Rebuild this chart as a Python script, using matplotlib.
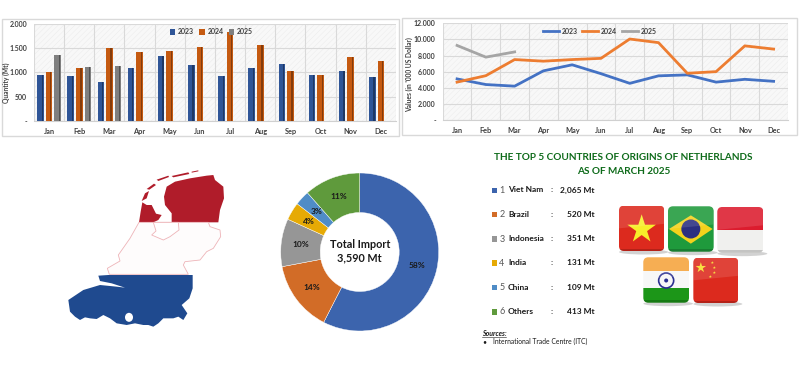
import numpy as np
import matplotlib
matplotlib.use("Agg")
import matplotlib.pyplot as plt
from matplotlib.patches import Polygon, Rectangle, FancyBboxPatch, Circle, Ellipse

plt.rcParams['font.family'] = ['Lato', 'DejaVu Sans']
plt.rcParams['hatch.linewidth'] = 0.3

months = ['Jan', 'Feb', 'Mar', 'Apr', 'May', 'Jun', 'Jul', 'Aug', 'Sep', 'Oct', 'Nov', 'Dec']
qty_2023 = [950, 920, 800, 1090, 1340, 1160, 920, 1090, 1175, 950, 1030, 905]
qty_2024 = [1010, 1090, 1500, 1420, 1440, 1530, 1830, 1565, 1020, 940, 1320, 1240]
qty_2025 = [1350, 1105, 1140]
val_2023 = [5100, 4400, 4200, 6100, 6850, 5750, 4550, 5480, 5600, 4700, 5050, 4800]
val_2024 = [4700, 5500, 7500, 7300, 7500, 7650, 10050, 9600, 5800, 6000, 9200, 8800]
val_2025 = [9250, 7800, 8450]
qty_ticks = [0, 500, 1000, 1500, 2000]
qty_labels = ['-', '500', '1.000', '1.500', '2.000']
val_ticks = [0, 2000, 4000, 6000, 8000, 10000, 12000]
val_labels = ['-', '2.000', '4.000', '6.000', '8.000', '10.000', '12.000']

countries = ['Viet Nam', 'Brazil', 'Indonesia', 'India', 'China', 'Others']
imports = [2065, 520, 351, 131, 109, 413]
import_labels = ['2,065 Mt', '520 Mt', '351 Mt', '131 Mt', '109 Mt', '413 Mt']
pct_labels = ['58%', '14%', '10%', '4%', '3%', '11%']

BLUE, ORANGE, GRAY = '#2f5597', '#c55a11', '#7f7f7f'
LBLUE, LORANGE, LGRAY = '#4472c4', '#ed7d31', '#a5a5a5'
donut_cols = ['#3c64ad', '#d26c27', '#969696', '#e6aa05', '#4f8cc6', '#5f9a3c']
TXT = '#404040'
W, H = 799, 372

fig = plt.figure(figsize=(W / 100, H / 100), dpi=100)


def px_axes(l, t, r, b):
    return fig.add_axes([l / W, 1 - b / H, (r - l) / W, (b - t) / H])


# background layer in pixel coordinates
bg = fig.add_axes([0, 0, 1, 1], zorder=0)
bg.set_xlim(0, W)
bg.set_ylim(H, 0)
bg.axis('off')
bg.add_patch(Rectangle((2, 19), 397, 117, fc='white', ec='#d9d9d9', lw=1))
bg.add_patch(Rectangle((402, 18), 395, 117, fc='white', ec='#d9d9d9', lw=1))


def style_axes(ax, ticks, labels, n=12):
    ax.set_facecolor('#f8f8f8')
    ax.patch.set_hatch('//////')
    ax.patch.set_edgecolor('#e9e9e9')
    ax.patch.set_linewidth(0)
    ax.set_xlim(-0.5, n - 0.5)
    ax.set_ylim(ticks[0], ticks[-1])
    ax.set_xticks(range(n))
    ax.set_xticklabels(months, fontsize=5.3, fontweight='bold', color=TXT)
    ax.set_yticks(ticks)
    ax.set_yticklabels(labels, fontsize=5, fontweight='bold', color=TXT)
    ax.set_xticks(np.arange(-0.5, n), minor=True)
    ax.tick_params(which='both', length=0)
    ax.tick_params(axis='x', pad=5)
    ax.tick_params(axis='y', pad=5)
    ax.grid(True, axis='y', color='#d9d9d9', lw=0.8)
    ax.grid(True, axis='x', which='minor', color='#d9d9d9', lw=0.8)
    ax.grid(False, axis='x', which='major')
    ax.set_axisbelow(True)
    for s in ax.spines.values():
        s.set_visible(False)
    ax.spines['bottom'].set_visible(True)
    ax.spines['bottom'].set_color('#d0d0d0')


# quantity bars
ax1 = px_axes(34, 24, 396, 120.7)
style_axes(ax1, qty_ticks, qty_labels)
bw = 0.22
step = 0.285
for i, (vals, dark, light, lab) in enumerate([
        (qty_2023, '#1f3864', BLUE, '2023'),
        (qty_2024, '#843c0c', ORANGE, '2024'),
        (qty_2025, '#525252', GRAY, '2025')]):
    x = np.arange(len(vals)) + (i - 1) * step
    ax1.bar(x, vals, bw, color=light, label=lab, zorder=3)
    ax1.bar(x + bw * 0.26, vals, bw * 0.2, color=dark, zorder=4)
leg = ax1.legend(loc='upper center', bbox_to_anchor=(0.49, 1.02), ncol=3, frameon=False,
                 handlelength=0.8, handleheight=0.8, handletextpad=0.4,
                 columnspacing=0.7, prop={'weight': 'bold', 'size': 5})
for t in leg.get_texts():
    t.set_color(TXT)

# value lines
ax2 = px_axes(442.7, 23.3, 788, 120)
style_axes(ax2, val_ticks, val_labels)
ax2.plot(range(12), val_2023, color=LBLUE, lw=2, label='2023', zorder=3)
ax2.plot(range(12), val_2024, color=LORANGE, lw=2, label='2024', zorder=3)
ax2.plot(range(3), val_2025, color=LGRAY, lw=2, label='2025', zorder=3)
leg = ax2.legend(loc='upper center', bbox_to_anchor=(0.455, 1.02), ncol=3, frameon=False,
                 handlelength=2.3, handletextpad=0.4, columnspacing=0.7,
                 prop={'weight': 'bold', 'size': 5})
for t in leg.get_texts():
    t.set_color(TXT)

# donut, centre (359.7, 252), outer radius 79
r = 79
ax3 = px_axes(359.7 - r, 252 - r, 359.7 + r, 252 + r)
wedges, _ = ax3.pie(imports, colors=donut_cols, startangle=90, counterclock=False, radius=1,
                    wedgeprops=dict(width=0.5, edgecolor='white', linewidth=0.3))
ax3.set_xlim(-1, 1)
ax3.set_ylim(-1, 1)
for w, lab in zip(wedges, pct_labels):
    a = np.deg2rad((w.theta1 + w.theta2) / 2)
    ax3.text(0.75 * np.cos(a), 0.75 * np.sin(a), lab, ha='center', va='center',
             fontsize=6, fontweight='bold', color='#1a1a1a')
ax3.text(0, 0.01, 'Total Import\n3,590 Mt', ha='center', va='center', fontsize=7.8,
         fontweight='bold', color='#1a1a1a', linespacing=1.3)

# overlay in pixel coordinates: axis titles, map, flags, text
ov = fig.add_axes([0, 0, 1, 1], zorder=5)
ov.set_xlim(0, W)
ov.set_ylim(H, 0)
ov.axis('off')
ov.patch.set_alpha(0)

ov.text(6, 83, 'Quantity (Mt)', rotation=90, ha='center', va='center', fontsize=4.8,
        fontweight='bold', color=TXT)
ov.text(409, 75, "Values (in '000 US Dollar)", rotation=90, ha='center', va='center', fontsize=4.8,
        fontweight='bold', color=TXT)


def mp(pts):
    # map outline was traced on a 3x crop starting at (50, 155)
    return [(x / 3 + 50, y / 3 + 155) for x, y in pts]


RED_MAP, BLUE_MAP = '#b01c2a', '#1f4a8f'
for pts in [
    [(342, 125), (350, 95), (375, 80), (420, 70), (470, 62), (490, 60), (495, 75), (520, 95),
     (522, 130), (510, 165), (505, 202), (365, 202), (365, 175), (345, 150)],
    [(267, 202), (272, 170), (277, 142), (290, 150), (305, 150), (318, 176), (335, 180),
     (325, 195), (310, 202)],
    [(275, 138), (285, 115), (297, 108), (290, 130)],
    [(290, 102), (312, 86), (318, 90), (298, 104)],
    [(320, 74), (355, 62), (357, 66), (325, 78)],
    [(365, 63), (415, 52), (418, 57), (370, 67)],
    [(425, 50), (445, 46), (445, 49), (425, 53)],
]:
    ov.add_patch(Polygon(mp(pts), fc=RED_MAP, ec='none'))
ov.add_patch(Polygon(mp([(267, 202), (240, 250), (205, 300), (210, 318), (172, 340), (178, 358),
                         (415, 358), (400, 330), (405, 320), (450, 315), (470, 290), (490, 280),
                         (512, 245), (510, 225), (480, 215), (475, 202)]),
                     fc='#fefcfc', ec='#eeb4b8', lw=0.6))
ov.add_patch(Polygon(mp([(310, 202), (318, 228), (305, 240), (340, 255), (360, 245), (387, 225),
                         (385, 202)]), fc='white', ec='#eeb4b8', lw=0.6))
ov.add_patch(Polygon(mp([(145, 362), (175, 360), (428, 360), (428, 400), (418, 430), (395, 450),
                         (412, 475), (400, 495), (385, 485), (370, 490), (340, 490), (325, 505),
                         (310, 515), (295, 510), (280, 510), (255, 505), (230, 510), (200, 505),
                         (180, 490), (160, 480), (140, 492), (120, 490), (105, 487), (90, 495),
                         (75, 485), (60, 470), (55, 435), (100, 405), (150, 390), (200, 395),
                         (225, 398), (185, 385), (150, 378)]), fc=BLUE_MAP, ec='none'))
ov.add_patch(Ellipse((237 / 3 + 50, 487 / 3 + 155), 8, 9, fc='white', ec='none'))


def fp(x, y):
    # flag positions were read on a 3x crop starting at (470, 150)
    return x / 3 + 470, y / 3 + 150


def star(cx, cy, R, fc):
    ang = np.deg2rad(-90 + 36 * np.arange(10))
    rad = np.where(np.arange(10) % 2 == 0, R, R * 0.38)
    ov.add_patch(Polygon(np.c_[cx + rad * np.cos(ang), cy + rad * np.sin(ang)], fc=fc, ec='none',
                         zorder=3))


def flag(x0, y0, x1, y1):
    l, t = fp(x0, y0)
    rr, b = fp(x1, y1)
    ov.add_patch(Ellipse(((l + rr) / 2 + 2, b + 1), rr - l + 4, 5, fc='#b5b5b5', ec='none', alpha=0.6, zorder=1))
    box = FancyBboxPatch((l + 4, t + 4), rr - l - 8, b - t - 8, boxstyle='round,pad=4,rounding_size=5',
                         fc='none', ec='none', zorder=2)
    ov.add_patch(box)
    return l, t, rr - l, b - t, box


def band(l, t, w, h, frac0, frac1, col, box):
    p = Rectangle((l, t + frac0 * h), w, (frac1 - frac0) * h, fc=col, ec='none', zorder=2)
    ov.add_patch(p)
    p.set_clip_path(box)


def gloss(l, t, w, h, box):
    # lighter top half of the glossy button, darker rim at the bottom
    p = Polygon([(l, t), (l + w, t), (l + w, t + h * 0.4), (l, t + h * 0.5)],
                fc='white', ec='none', alpha=0.12, zorder=4)
    ov.add_patch(p)
    p.set_clip_path(box)
    p = Rectangle((l, t + h * 0.95), w, h * 0.05, fc='black', ec='none', alpha=0.18, zorder=4)
    ov.add_patch(p)
    p.set_clip_path(box)


l, t, w, h, box = flag(447, 167, 583, 303)
band(l, t, w, h, 0, 1, '#dc2a1e', box)
star(l + w / 2, t + h / 2 + 1, 15, '#f7ee2a')
gloss(l, t, w, h, box)

l, t, w, h, box = flag(594, 169, 731, 305)
band(l, t, w, h, 0, 1, '#1f9a3c', box)
ov.add_patch(Polygon([(l + 1, t + h / 2), (l + w / 2, t + 9), (l + w - 1, t + h / 2), (l + w / 2, t + h - 8)],
                     fc='#f3d21c', ec='none', zorder=3))
ov.add_patch(Circle((l + w / 2, t + h / 2), 9.5, fc='#2b2f80', ec='none', zorder=3))
gloss(l, t, w, h, box)

l, t, w, h, box = flag(742, 171, 880, 308)
band(l, t, w, h, 0, 0.5, '#dc1c2e', box)
band(l, t, w, h, 0.5, 1, '#f0f0ee', box)
gloss(l, t, w, h, box)

l, t, w, h, box = flag(520, 322, 657, 458)
band(l, t, w, h, 0, 0.31, '#f5a33c', box)
band(l, t, w, h, 0.31, 0.68, '#f7f7f7', box)
band(l, t, w, h, 0.68, 1, '#1c9618', box)
ov.add_patch(Circle((l + w / 2, t + h / 2 + 0.5), 7.5, fc='none', ec='#2b2f90', lw=1.2, zorder=3))
ov.add_patch(Circle((l + w / 2, t + h / 2 + 0.5), 2, fc='#2b2f90', ec='none', zorder=3))
gloss(l, t, w, h, box)

l, t, w, h, box = flag(670, 323, 805, 459)
band(l, t, w, h, 0, 1, '#dc2a1e', box)
star(l + 7.5, t + 10, 5.5, '#f7dc2a')
for dx, dy in [(19, 5), (21, 10), (21, 15), (17, 19)]:
    star(l + dx, t + dy, 1.6, '#f7dc2a')
gloss(l, t, w, h, box)

# right-hand text block
ov.text(623.5, 157, 'THE TOP 5 COUNTRIES OF ORIGINS OF NETHERLANDS', ha='center', va='center',
        fontsize=7.2, fontweight='bold', color='#0e6b1a')
ov.text(623.5, 171, 'AS OF MARCH 2025', ha='center', va='center', fontsize=7.2, fontweight='bold',
        color='#0e6b1a')
for i, (name, lab, col) in enumerate(zip(countries, import_labels, donut_cols)):
    y = 190 + i * 24.3
    ov.add_patch(Rectangle((492, y - 2.5), 5, 5.5, fc=col, ec='none'))
    ov.text(502, y + 0.5, str(i + 1), ha='center', va='center', fontsize=6.5, color='#595959')
    ov.text(508, y, name, ha='left', va='center', fontsize=6, fontweight='bold', color='#1a1a1a')
    ov.text(551.5, y, ':', ha='center', va='center', fontsize=6, fontweight='bold', color='#1a1a1a')
    ov.text(595, y, lab, ha='right', va='center', fontsize=6, fontweight='bold', color='#1a1a1a')
ov.text(482, 333.5, 'Sources:', ha='left', va='center', fontsize=5, style='italic', fontweight='bold',
        color='#1a1a1a')
ov.plot([482, 506], [337, 337], color='#1a1a1a', lw=0.4)
ov.text(482, 341.5, '•', ha='left', va='center', fontsize=5, color='#1a1a1a')
ov.text(493, 341.5, 'International Trade Centre (ITC)', ha='left', va='center', fontsize=4.9, color='#1a1a1a')

fig.savefig('out.png', dpi=100, facecolor='white')
